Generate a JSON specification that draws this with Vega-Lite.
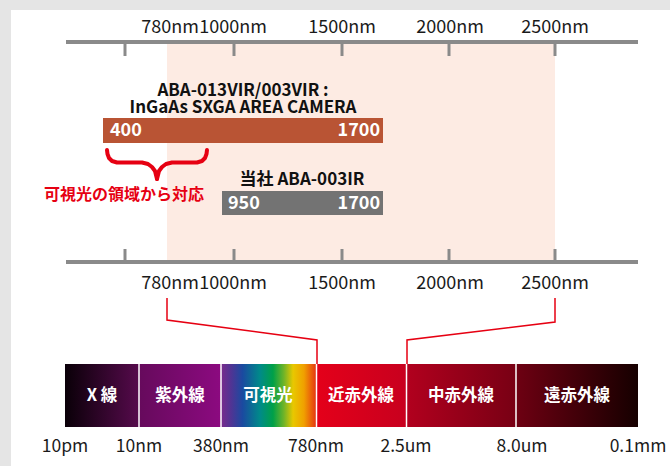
{
  "$schema": "https://vega.github.io/schema/vega-lite/v6.json",
  "width": 670,
  "height": 466,
  "autosize": {"type": "fit", "contains": "padding"},
  "padding": 0,
  "background": "#e5e5e5",
  "config": {"view": {"stroke": null}, "font": "Noto Sans CJK JP"},
  "datasets": {
    "panel": [{"x": 11, "x2": 670, "y": 10, "y2": 466}],
    "band": [{"x": 167, "x2": 555, "y": 42, "y2": 262}],
    "axisLines": [{"x": 66, "x2": 638, "y": 42}, {"x": 66, "x2": 638, "y": 262}],
    "ticks": [
      {"x": 125, "y": 42, "y2": 56}, {"x": 234, "y": 42, "y2": 56}, {"x": 342, "y": 42, "y2": 56}, {"x": 449, "y": 42, "y2": 56}, {"x": 555, "y": 42, "y2": 56},
      {"x": 125, "y": 249, "y2": 262}, {"x": 234, "y": 249, "y2": 262}, {"x": 342, "y": 249, "y2": 262}, {"x": 449, "y": 249, "y2": 262}, {"x": 555, "y": 249, "y2": 262}
    ],
    "axisLabels": [
      {"x": 170, "y": 28, "text": "780nm"}, {"x": 233, "y": 28, "text": "1000nm"}, {"x": 342, "y": 28, "text": "1500nm"}, {"x": 450, "y": 28, "text": "2000nm"}, {"x": 555, "y": 28, "text": "2500nm"},
      {"x": 170, "y": 284, "text": "780nm"}, {"x": 233, "y": 284, "text": "1000nm"}, {"x": 342, "y": 284, "text": "1500nm"}, {"x": 450, "y": 284, "text": "2000nm"}, {"x": 555, "y": 284, "text": "2500nm"}
    ],
    "bars": [
      {"camera": "ABA-013VIR/003VIR", "x": 103, "x2": 383, "y": 118, "y2": 143},
      {"camera": "ABA-003IR", "x": 222, "x2": 383, "y": 191, "y2": 215}
    ],
    "barLabels": [
      {"x": 110, "y": 131, "text": "400", "side": "left"},
      {"x": 380, "y": 131, "text": "1700", "side": "right"},
      {"x": 228, "y": 204, "text": "950", "side": "left"},
      {"x": 380, "y": 204, "text": "1700", "side": "right"}
    ],
    "camTitles": [
      {"x": 243, "y": 90.5, "text": "ABA-013VIR/003VIR :\nInGaAs SXGA AREA CAMERA"},
      {"x": 302, "y": 180, "text": "当社 ABA-003IR"}
    ],
    "note": [{"x": 124, "y": 195, "text": "可視光の領域から対応"}],
    "brace": [
      {"side": "L", "o": 0, "x": 107, "y": 150}, {"side": "L", "o": 1, "x": 107.5, "y": 154}, {"side": "L", "o": 2, "x": 109, "y": 158}, {"side": "L", "o": 3, "x": 112, "y": 161}, {"side": "L", "o": 4, "x": 117, "y": 162.5}, {"side": "L", "o": 5, "x": 142, "y": 162.5}, {"side": "L", "o": 6, "x": 148, "y": 164}, {"side": "L", "o": 7, "x": 152, "y": 167}, {"side": "L", "o": 8, "x": 155, "y": 171}, {"side": "L", "o": 9, "x": 157, "y": 179},
      {"side": "R", "o": 0, "x": 207, "y": 150}, {"side": "R", "o": 1, "x": 206.5, "y": 154}, {"side": "R", "o": 2, "x": 205, "y": 158}, {"side": "R", "o": 3, "x": 202, "y": 161}, {"side": "R", "o": 4, "x": 197, "y": 162.5}, {"side": "R", "o": 5, "x": 172, "y": 162.5}, {"side": "R", "o": 6, "x": 166, "y": 164}, {"side": "R", "o": 7, "x": 162, "y": 167}, {"side": "R", "o": 8, "x": 159, "y": 171}, {"side": "R", "o": 9, "x": 157, "y": 179}
    ],
    "connectors": [
      {"side": "L", "o": 0, "x": 167, "y": 298}, {"side": "L", "o": 1, "x": 167, "y": 320}, {"side": "L", "o": 2, "x": 317, "y": 340}, {"side": "L", "o": 3, "x": 317, "y": 365},
      {"side": "R", "o": 0, "x": 555, "y": 298}, {"side": "R", "o": 1, "x": 555, "y": 322}, {"side": "R", "o": 2, "x": 407, "y": 340}, {"side": "R", "o": 3, "x": 407, "y": 365}
    ],
    "spectrum": [{"x": 65, "x2": 638, "y": 364, "y2": 427}],
    "separators": [
      {"x": 139, "y": 364, "y2": 427}, {"x": 221, "y": 364, "y2": 427}, {"x": 316.5, "y": 364, "y2": 427}, {"x": 406.5, "y": 364, "y2": 427}, {"x": 516, "y": 364, "y2": 427}
    ],
    "bandLabels": [
      {"x": 102, "y": 396, "text": "X 線"}, {"x": 180, "y": 396, "text": "紫外線"}, {"x": 268, "y": 396, "text": "可視光"},
      {"x": 361, "y": 396, "text": "近赤外線"}, {"x": 461, "y": 396, "text": "中赤外線"}, {"x": 577, "y": 396, "text": "遠赤外線"}
    ],
    "bottomLabels": [
      {"x": 65, "y": 447, "text": "10pm"}, {"x": 139, "y": 447, "text": "10nm"}, {"x": 221, "y": 447, "text": "380nm"}, {"x": 316, "y": 447, "text": "780nm"},
      {"x": 406, "y": 447, "text": "2.5um"}, {"x": 522, "y": 447, "text": "8.0um"}, {"x": 638, "y": 447, "text": "0.1mm"}
    ]
  },
  "encoding": {
    "x": {"field": "x", "type": "quantitative", "scale": {"domain": [0, 670], "nice": false, "zero": false}, "axis": null},
    "y": {"field": "y", "type": "quantitative", "scale": {"domain": [0, 466], "reverse": true, "nice": false, "zero": false}, "axis": null}
  },
  "layer": [
    {"data": {"name": "panel"}, "mark": {"type": "rect", "color": "#ffffff"}, "encoding": {"x2": {"field": "x2"}, "y2": {"field": "y2"}}},
    {"data": {"name": "band"}, "mark": {"type": "rect", "color": "#fdebe3"}, "encoding": {"x2": {"field": "x2"}, "y2": {"field": "y2"}}},
    {"data": {"name": "axisLines"}, "mark": {"type": "rule", "color": "#8a8a8a", "strokeWidth": 4}, "encoding": {"x2": {"field": "x2"}}},
    {"data": {"name": "ticks"}, "mark": {"type": "rule", "color": "#8a8a8a", "strokeWidth": 3}, "encoding": {"y2": {"field": "y2"}}},
    {"data": {"name": "axisLabels"}, "mark": {"type": "text", "fontSize": 18, "color": "#1a1a1a", "align": "center", "baseline": "middle"}, "encoding": {"text": {"field": "text"}}},
    {"data": {"name": "bars"}, "mark": {"type": "rect"}, "encoding": {"x2": {"field": "x2"}, "y2": {"field": "y2"}, "color": {"field": "camera", "type": "nominal", "scale": {"domain": ["ABA-013VIR/003VIR", "ABA-003IR"], "range": ["#b95434", "#737373"]}, "legend": null}}},
    {"data": {"name": "barLabels"}, "transform": [{"filter": "datum.side === 'left'"}], "mark": {"type": "text", "fontSize": 18, "fontWeight": "bold", "color": "#ffffff", "align": "left", "baseline": "middle"}, "encoding": {"text": {"field": "text"}}},
    {"data": {"name": "barLabels"}, "transform": [{"filter": "datum.side === 'right'"}], "mark": {"type": "text", "fontSize": 18, "fontWeight": "bold", "color": "#ffffff", "align": "right", "baseline": "middle"}, "encoding": {"text": {"field": "text"}}},
    {"data": {"name": "camTitles"}, "mark": {"type": "text", "fontSize": 17, "fontWeight": "bold", "color": "#111111", "align": "center", "baseline": "middle", "lineBreak": "\n", "lineHeight": 17.5}, "encoding": {"text": {"field": "text"}}},
    {"data": {"name": "note"}, "mark": {"type": "text", "fontSize": 16, "fontWeight": "bold", "color": "#e60012", "align": "center", "baseline": "middle"}, "encoding": {"text": {"field": "text"}}},
    {"data": {"name": "brace"}, "mark": {"type": "line", "color": "#e60012", "strokeWidth": 4, "strokeCap": "round", "strokeJoin": "round"}, "encoding": {"detail": {"field": "side"}, "order": {"field": "o"}}},
    {"data": {"name": "connectors"}, "mark": {"type": "line", "color": "#e60012", "strokeWidth": 1.5}, "encoding": {"detail": {"field": "side"}, "order": {"field": "o"}}},
    {"data": {"name": "spectrum"}, "mark": {"type": "rect", "color": {"gradient": "linear", "x1": 0, "x2": 1, "y1": 0, "y2": 0, "stops": [
      {"offset": 0, "color": "#0a0008"},
      {"offset": 0.129, "color": "#560a4c"},
      {"offset": 0.1291, "color": "#660a5c"},
      {"offset": 0.272, "color": "#8c0a80"},
      {"offset": 0.2721, "color": "#7a2a8c"},
      {"offset": 0.29, "color": "#503494"},
      {"offset": 0.31, "color": "#1a4aa0"},
      {"offset": 0.34, "color": "#008a8a"},
      {"offset": 0.363, "color": "#00a048"},
      {"offset": 0.382, "color": "#70b428"},
      {"offset": 0.398, "color": "#e8c800"},
      {"offset": 0.417, "color": "#f0a000"},
      {"offset": 0.437, "color": "#e63c10"},
      {"offset": 0.4381, "color": "#e4001a"},
      {"offset": 0.595, "color": "#c8001e"},
      {"offset": 0.5951, "color": "#b2001e"},
      {"offset": 0.787, "color": "#780014"},
      {"offset": 0.7871, "color": "#6e0012"},
      {"offset": 1, "color": "#160000"}
    ]}}, "encoding": {"x2": {"field": "x2"}, "y2": {"field": "y2"}}},
    {"data": {"name": "separators"}, "mark": {"type": "rule", "color": "#ffffff", "strokeWidth": 1.5}, "encoding": {"y2": {"field": "y2"}}},
    {"data": {"name": "bandLabels"}, "mark": {"type": "text", "fontSize": 16.5, "fontWeight": "bold", "color": "#ffffff", "align": "center", "baseline": "middle"}, "encoding": {"text": {"field": "text"}}},
    {"data": {"name": "bottomLabels"}, "mark": {"type": "text", "fontSize": 17.5, "color": "#1a1a1a", "align": "center", "baseline": "middle"}, "encoding": {"text": {"field": "text"}}}
  ]
}
